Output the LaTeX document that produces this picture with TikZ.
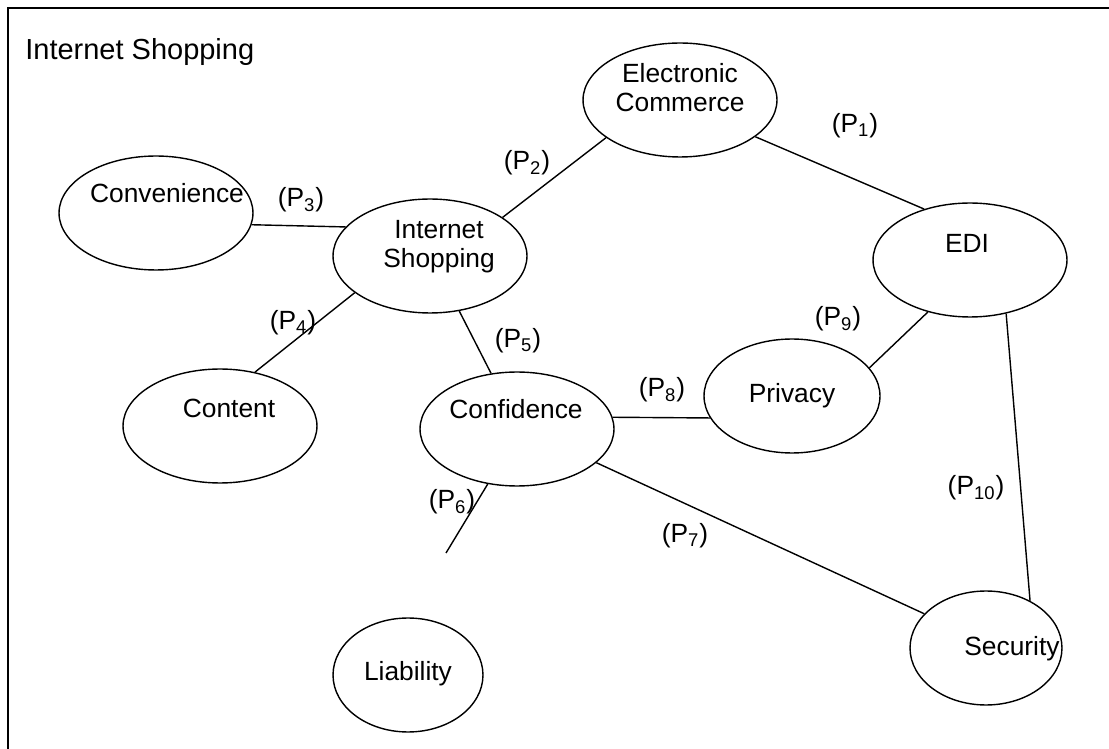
\documentclass[tikz,border=0pt]{standalone}
\usepackage{fontspec}
\setmainfont{Liberation Sans}
\usetikzlibrary{shapes.geometric}
\tikzset{
  oval/.style ={draw,ellipse,line width=0.8pt,inner sep=0pt,
                minimum width=3.88cm,minimum height=2.28cm},
  txt/.style  ={font=\fontsize{15}{16.5}\selectfont,align=center,inner sep=0pt},
  plab/.style ={txt,anchor=base},
  link/.style ={line width=0.8pt},
}
\newcommand{\pl}[1]{(P\textsubscript{#1})}

\begin{document}
\begin{tikzpicture}[x=0.02cm,y=-0.02cm]
 \useasboundingbox (0,0) rectangle (1109,749);
 % frame
 \draw[line width=1.1pt] (8,749) -- (8,8) -- (1109,8);
 \node[txt,anchor=base west,font=\fontsize{16.5}{18}\selectfont] (title) at (25,60) {Internet Shopping};
 % ellipses
 \node[oval] (ec)   at (680,100) {};
 \node[oval] (edi)  at (970,260) {};
 \node[oval] (conv) at (156,213) {};
 \node[oval] (ishop) at (430,256) {};
 \node[oval] (cont) at (220,426) {};
 \node[oval] (conf) at (517,429) {};
 \node[oval,minimum width=3.52cm] (priv) at (792,396) {};
 \node[oval,minimum width=3.0cm] (liab) at (408,675) {};
 \node[oval,minimum width=3.04cm] (sec)  at (986,648) {};
 % texts
 \node[txt] (ec-t) at (680,88) {Electronic\\Commerce};
 \node[txt,anchor=base] (edi-t) at (967,253) {EDI};
 \node[txt,anchor=base] (conv-t) at (167,203) {Convenience};
 \node[txt] (ishop-t) at (439,247) {Internet\\Shopping};
 \node[txt,anchor=base] (cont-t) at (229,418) {Content};
 \node[txt,anchor=base] (conf-t) at (516,419) {Confidence};
 \node[txt,anchor=base] (priv-t) at (792,403) {Privacy};
 \node[txt,anchor=base] (liab-t) at (408,680) {Liability};
 \node[txt,anchor=base] (sec-t)  at (1012,655) {Security};
 % links
 \coordinate (p6end) at (446,553);
 \draw[link] (ec.-26)     -- (edi.132);
 \draw[link] (ishop.28)   -- (ec.207);
 \draw[link] (conv.-7)    -- (ishop.161);
 \draw[link] (ishop.206)  -- (cont.57);
 \draw[link] (ishop.-62)  -- (conf.115);
 \draw[link] (conf.242)   -- (p6end);
 \draw[link] (conf.-23)   -- (sec.151);
 \draw[link] (conf.7)     -- (priv.195);
 \draw[link] (edi.231)    -- (priv.20);
 \draw[link] (edi.-56)    -- (sec.47);
 % labels
 \node[plab] (p1)  at (855,133) {\pl{1}};
 \node[plab] (p2)  at (527,170) {\pl{2}};
 \node[plab] (p3)  at (301,207) {\pl{3}};
 \node[plab] (p4)  at (293,330) {\pl{4}};
 \node[plab] (p5)  at (518,348) {\pl{5}};
 \node[plab] (p6)  at (452,509) {\pl{6}};
 \node[plab] (p7)  at (685,543) {\pl{7}};
 \node[plab] (p8)  at (662,397) {\pl{8}};
 \node[plab] (p9)  at (838,326) {\pl{9}};
 \node[plab] (p10) at (976,495) {\pl{10}};
\end{tikzpicture}
\end{document}
